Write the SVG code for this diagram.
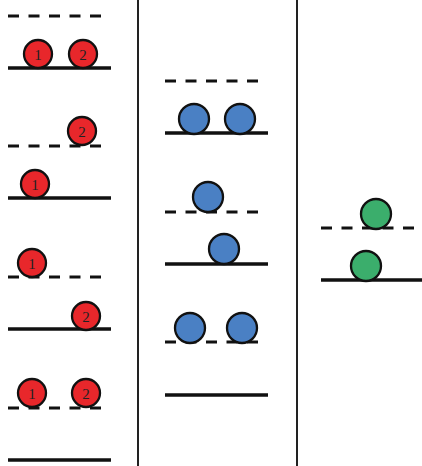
<svg xmlns="http://www.w3.org/2000/svg" width="422" height="466" viewBox="0 0 422 466">
<style>
.s{stroke:#111;stroke-width:3.5;fill:none}
.d{stroke:#111;stroke-width:3;fill:none;stroke-dasharray:11 9.5}
.v{stroke:#222;stroke-width:2;fill:none}
.r{fill:#e8272b;stroke:#111;stroke-width:2.3}
.b{fill:#4a80c4;stroke:#111;stroke-width:2.3}
.g{fill:#3bae6c;stroke:#111;stroke-width:2.3}
text{font-family:"Liberation Serif",serif;font-size:15px;fill:#222;text-anchor:middle;dominant-baseline:central}
</style>
<rect width="422" height="466" fill="#fff"/>
<g id="connectors">
<line class="v" x1="138" y1="0" x2="138" y2="466"/>
<line class="v" x1="297" y1="0" x2="297" y2="466"/>
<line class="d" x1="8" y1="16" x2="104" y2="16"/>
<line class="s" x1="8" y1="68" x2="111" y2="68"/>
<line class="d" x1="8" y1="146" x2="104" y2="146"/>
<line class="s" x1="8" y1="198" x2="111" y2="198"/>
<line class="d" x1="8" y1="277" x2="104" y2="277"/>
<line class="s" x1="8" y1="329" x2="111" y2="329"/>
<line class="d" x1="8" y1="408" x2="104" y2="408"/>
<line class="s" x1="8" y1="460" x2="111" y2="460"/>
<line class="d" x1="165" y1="81" x2="262" y2="81"/>
<line class="s" x1="165" y1="133" x2="268" y2="133"/>
<line class="d" x1="165" y1="212" x2="262" y2="212"/>
<line class="s" x1="165" y1="264" x2="268" y2="264"/>
<line class="d" x1="165" y1="342" x2="262" y2="342"/>
<line class="s" x1="165" y1="395" x2="268" y2="395"/>
<line class="d" x1="321" y1="228" x2="418" y2="228"/>
<line class="s" x1="321" y1="280" x2="422" y2="280"/>
</g>
<g id="r1a"><circle class="r" cx="38" cy="54" r="14"/><text x="38" y="55">1</text></g>
<g id="r2a"><circle class="r" cx="83" cy="54" r="14"/><text x="83" y="55">2</text></g>
<g id="r2b"><circle class="r" cx="82" cy="131" r="14"/><text x="82" y="132">2</text></g>
<g id="r1b"><circle class="r" cx="35" cy="184" r="14"/><text x="35" y="185">1</text></g>
<g id="r1c"><circle class="r" cx="32" cy="263" r="14"/><text x="32" y="264">1</text></g>
<g id="r2c"><circle class="r" cx="86" cy="316" r="14"/><text x="86" y="317">2</text></g>
<g id="r1d"><circle class="r" cx="32" cy="393" r="14"/><text x="32" y="394">1</text></g>
<g id="r2d"><circle class="r" cx="86" cy="393" r="14"/><text x="86" y="394">2</text></g>
<g id="b1"><circle class="b" cx="194" cy="119" r="15"/></g>
<g id="b2"><circle class="b" cx="240" cy="119" r="15"/></g>
<g id="b3"><circle class="b" cx="208" cy="197" r="15"/></g>
<g id="b4"><circle class="b" cx="224" cy="249" r="15"/></g>
<g id="b5"><circle class="b" cx="190" cy="328" r="15"/></g>
<g id="b6"><circle class="b" cx="242" cy="328" r="15"/></g>
<g id="g1"><circle class="g" cx="376" cy="214" r="15"/></g>
<g id="g2"><circle class="g" cx="366" cy="266" r="15"/></g>
</svg>
